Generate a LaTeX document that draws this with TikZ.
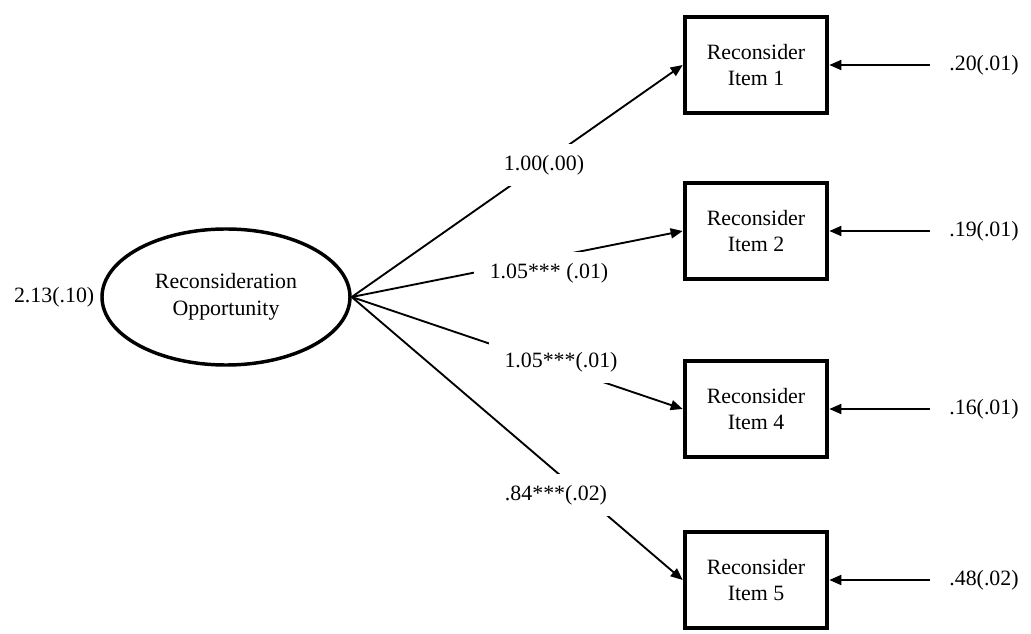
\documentclass[tikz,border=0pt]{standalone}
\usepackage{fontspec}
\setmainfont{Liberation Serif}
\usetikzlibrary{arrows.meta,positioning,backgrounds,shapes.geometric}

\begin{document}
\begin{tikzpicture}[x=0.75pt,y=-0.75pt,font=\fontsize{16.4}{20}\selectfont,
    item/.style={draw,line width=3pt,minimum width=107pt,minimum height=72pt,align=center},
    latent/.style={draw,ellipse,line width=2.6pt,minimum width=186pt,minimum height=102pt,align=center},
    coef/.style={fill=white,inner xsep=12pt,inner ysep=8pt},
    load/.style={line width=1.4pt,-{Triangle[length=9pt,width=7.5pt]}}]
  \useasboundingbox (0,0) rectangle (1031,634);
  \node[latent] (lv) at (226,297) {Reconsideration\\Opportunity};
  \node[left=1pt of lv] (var) {2.13(.10)};
  % indicators and their residual variances
  \foreach \n/\y/\e in {1/65/.20(.01),2/231/.19(.01),4/409/.16(.01),5/580/.48(.02)}{
    \node[item] (i\n) at (756,\y) {Reconsider\\Item \n};
    \node (e\n) at (984,\y) {\e};
    \draw[load,shorten <=11pt] (e\n) -- (i\n);
  }
  \node[coef] (c1) at (544,165) {1.00(.00)};
  \node[coef] (c2) at (549,273) {1.05*** (.01)};
  \node[coef] (c4) at (561,362) {1.05***(.01)};
  \node[coef] (c5) at (556,495) {.84***(.02)};
  \begin{scope}[on background layer]
    \foreach \n in {1,2,4,5}
      \draw[load] (lv.east) -- (i\n.west);
  \end{scope}
\end{tikzpicture}
\end{document}
